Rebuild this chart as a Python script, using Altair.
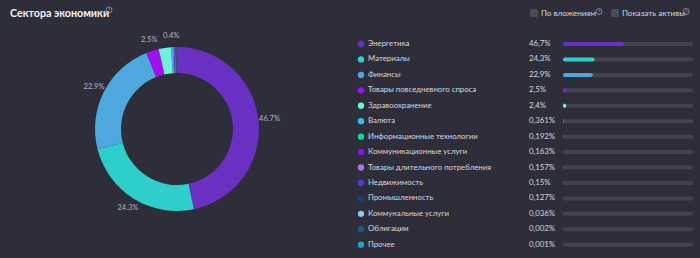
import altair as alt
import pandas as pd

sectors = [
    "Энергетика", "Материалы", "Финансы", "Товары повседневного спроса",
    "Здравоохранение", "Валюта", "Информационные технологии",
    "Коммуникационные услуги", "Товары длительного потребления",
    "Недвижимость", "Промышленность", "Коммунальные услуги", "Облигации", "Прочее",
]
shares = [46.7, 24.3, 22.9, 2.5, 2.4, 0.361, 0.192, 0.163, 0.157, 0.15, 0.127, 0.036, 0.002, 0.001]
share_text = ["46,7%", "24,3%", "22,9%", "2,5%", "2,4%", "0,361%", "0,192%", "0,163%",
              "0,157%", "0,15%", "0,127%", "0,036%", "0,002%", "0,001%"]
arc_text = ["46.7%", "24.3%", "22.9%", "2.5%", "", "0.4%", "", "", "", "", "", "", "", ""]
colors = ["#6a30c4", "#2ecfcb", "#4fa8dd", "#a010f0", "#6ff0dc", "#3bbde6", "#14d49c",
          "#9010f0", "#a07ae0", "#4b3fd0", "#1e3f7a", "#8ac8f0", "#1a5f7a", "#1fa8c0"]

title_text = ["Сектора экономики"]
toggle_text = ["По вложениям", "Показать активы"]

BG = "#2e2d3a"
TXT = "#d6d6de"
FONT = "Lato"
LEG_FS = 7.8

df = pd.DataFrame({
    "sector": sectors,
    "share": shares,
    "share_text": share_text,
    "arc_text": arc_text,
    "order": list(range(len(sectors))),
    "zero": [0] * len(sectors),
})

color = alt.Color("sector:N", scale=alt.Scale(domain=sectors, range=colors), legend=None)
Y = alt.Y("sector:N", sort=sectors,
          scale=alt.Scale(type="point", domain=sectors, range=[44, 244.7], padding=0),
          axis=None)
base = alt.Chart(df)

donut = base.mark_arc(radius=82, innerRadius=56).encode(
    theta=alt.Theta("share:Q", stack=True),
    order=alt.Order("order:Q"),
    color=color,
    x=alt.value(177), y=alt.value(129),
)
donut_labels = base.mark_text(radius=93, fontSize=7.5, font=FONT, color="#b4b4c0").encode(
    theta=alt.Theta("share:Q", stack=True),
    order=alt.Order("order:Q"),
    text="arc_text:N",
    x=alt.value(177), y=alt.value(129),
)

dots = base.mark_circle(size=40, opacity=1).encode(x=alt.value(361), y=Y, color=color)
names = base.mark_text(align="left", baseline="middle", fontSize=LEG_FS, font=FONT, color=TXT).encode(
    x=alt.value(368), y=Y, text="sector:N")
pcts = base.mark_text(align="left", baseline="middle", fontSize=LEG_FS, font=FONT, color=TXT).encode(
    x=alt.value(529), y=Y, text="share_text:N")
tracks = base.mark_rule(strokeWidth=4, strokeCap="round", color="#43424f").encode(
    x=alt.value(565), x2=alt.value(691), y=Y)
bars = base.mark_bar(size=4, cornerRadius=2).encode(
    x=alt.X("zero:Q", scale=alt.Scale(domain=[0, 100], range=[563, 693]), axis=None),
    x2="share:Q", y=Y, color=color)

title = alt.Chart(pd.DataFrame({"t": title_text})).mark_text(
    align="left", baseline="middle", fontSize=10.7, fontWeight="bold", font=FONT, color="#f2f2f6"
).encode(x=alt.value(10), y=alt.value(14), text="t:N")

tdf = pd.DataFrame({"t": toggle_text})
boxes = alt.Chart(tdf.iloc[[0]]).mark_rect(cornerRadius=1.5, color="#4b4a57").encode(
    x=alt.value(530), x2=alt.value(538), y=alt.value(9), y2=alt.value(17))
boxes2 = alt.Chart(tdf.iloc[[1]]).mark_rect(cornerRadius=1.5, color="#4b4a57").encode(
    x=alt.value(611), x2=alt.value(619), y=alt.value(9), y2=alt.value(17))
tlab1 = alt.Chart(tdf.iloc[[0]]).mark_text(align="left", baseline="middle", fontSize=8.1, font=FONT, color=TXT).encode(
    x=alt.value(541), y=alt.value(13.5), text="t:N")
tlab2 = alt.Chart(tdf.iloc[[1]]).mark_text(align="left", baseline="middle", fontSize=8.1, font=FONT, color=TXT).encode(
    x=alt.value(622), y=alt.value(13.5), text="t:N")

icons = []
for ix, iy in [(109, 10), (599, 11.5), (686, 11.5)]:
    d = pd.DataFrame({"q": ["?"]})
    icons.append(alt.Chart(d).mark_point(shape="circle", filled=False, size=36, strokeWidth=0.8,
                                          color="#9a9aa8", opacity=1).encode(x=alt.value(ix), y=alt.value(iy)))
    icons.append(alt.Chart(d).mark_text(fontSize=5, font=FONT, color="#9a9aa8", baseline="middle").encode(
        x=alt.value(ix), y=alt.value(iy + 0.3), text="q:N"))

chart = alt.layer(
    donut, donut_labels, tracks, bars, dots, names, pcts,
    title, boxes, boxes2, tlab1, tlab2, *icons
).properties(
    width=700, height=258, background=BG, padding=0,
    autosize=alt.AutoSizeParams(type="none"),
).configure_view(stroke=None)

chart.save("out.html", embed_options={"renderer": "svg", "actions": False})
